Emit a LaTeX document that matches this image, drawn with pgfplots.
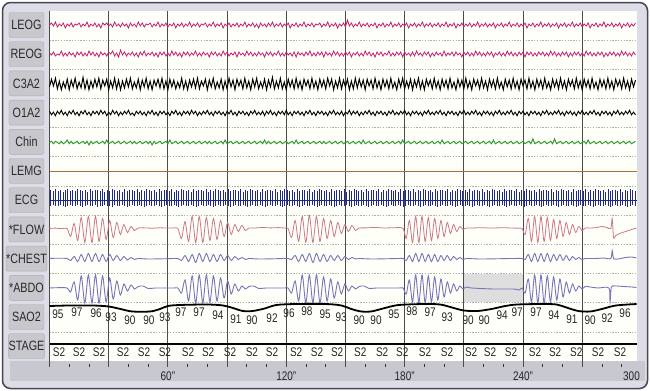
\documentclass[border=0pt]{standalone}
\usepackage{pgfplots}
\pgfplotsset{compat=1.18}
\usepackage{pgfplotstable}
\usepackage{fontspec}
\setmainfont{Liberation Sans}[FakeStretch=0.8]
\definecolor{eogc}{RGB}{196,32,112}
\definecolor{chinc}{RGB}{50,155,50}
\definecolor{lemgc}{RGB}{170,110,60}
\definecolor{ecgc}{RGB}{30,40,140}
\definecolor{flowc}{RGB}{205,120,135}
\definecolor{respc}{RGB}{118,118,185}
\definecolor{shadec}{RGB}{222,222,222}
\definecolor{plotbg}{RGB}{255,255,250}
\definecolor{framebg}{RGB}{221,221,232}
\definecolor{framecol}{RGB}{70,70,85}
\definecolor{boxfill}{RGB}{200,200,204}
\definecolor{boxline}{RGB}{170,170,178}
\definecolor{stripc}{RGB}{200,200,208}
\definecolor{labtext}{RGB}{40,40,45}
\definecolor{vgrid}{RGB}{75,75,75}
\definecolor{hgrid}{RGB}{175,175,175}

\pgfplotstableread{
t l r c o g
0 0 1 -3 2 0
1 2 -1 5 -2 1
2 -1 2 -2 1 -1
3 3 -2 6 -3 1
4 -2 0 -5 2 0
5 1 -1 3 -1 -1
6 -1 3 -6 3 1
7 2 -2 2 -2 -1
8 -3 1 -4 1 0
9 1 -2 5 -3 2
10 -1 2 -6 2 -1
11 2 -1 4 -1 1
12 -2 1 -3 3 -1
13 1 -3 6 -2 0
14 0 2 -5 1 1
15 2 -1 2 -3 -1
16 -2 2 -4 2 0
17 1 -2 7 -1 1
18 -1 1 -5 3 -1
19 3 -2 4 -2 1
20 -2 3 -6 1 -2
21 1 -1 3 -3 1
22 -1 2 -4 2 -1
23 2 -2 5 -1 0
24 -2 1 -3 2 1
25 1 -3 6 -2 -1
26 -3 2 -5 3 0
27 2 -1 4 -1 1
28 0 1 -2 2 -1
29 2 -2 5 -3 2
30 -1 2 -6 1 -1
31 1 0 3 -2 0
32 -2 3 -4 3 1
33 3 -2 6 -1 -1
34 -1 1 -5 2 0
35 1 -3 4 -3 1
36 -2 4 -6 1 -1
37 2 -1 3 -2 0
38 -1 2 -4 2 1
39 1 -2 5 -1 -1
40 -3 1 -3 3 0
41 2 -1 6 -2 1
42 -1 2 -5 0 -1
43 1 -2 2 -3 1
44 -2 1 -4 2 -1
45 3 -3 5 -1 0
46 -1 2 -6 2 1
47 2 -1 4 -2 -1
48 -2 3 -3 1 0
49 1 -2 6 -3 1
50 0 1 -5 2 -1
51 2 -1 3 -1 1
52 -2 2 -6 3 -2
53 1 -2 4 -2 1
54 -1 1 -2 1 -1
55 3 -3 5 -3 0
56 -2 2 -4 2 1
57 1 -1 6 -1 -1
58 -1 2 -5 2 0
59 2 -2 3 -2 1
60 -2 1 -6 1 -1
61 1 -2 5 -3 2
62 -1 3 -3 2 -1
63 2 -1 4 -1 0
64 -3 2 -5 3 1
65 1 -2 2 -2 -1
66 -1 1 -4 1 0
67 2 -3 6 -3 1
68 -2 2 -5 2 -1
69 1 -1 3 -1 0
70 -1 2 -6 2 1
71 3 -2 4 -2 -1
72 -2 1 -3 3 0
73 1 -1 5 -1 1
74 -1 3 -4 2 -1
75 2 -2 6 -3 0
76 -2 1 -5 1 1
77 1 -2 3 -2 -1
78 0 2 -2 2 0
79 2 -1 5 -1 1
80 -2 1 -6 3 -1
81 1 -3 4 -2 1
82 -1 2 -3 1 -1
83 3 -1 6 -3 0
84 -2 2 -5 2 1
85 1 -2 2 -1 -1
86 -1 1 -4 2 0
87 2 -2 5 -2 1
88 -3 3 -6 1 -1
89 1 -1 3 -3 2
90 -1 2 -5 2 -1
91 2 -2 6 -1 0
92 -2 1 -3 3 1
93 1 -1 4 -2 -1
94 -1 2 -6 1 0
95 2 -3 5 -3 1
96 -2 2 -2 2 -1
97 1 -1 4 -1 0
98 -1 1 -5 2 1
99 3 -2 6 -2 -1
100 -2 3 -4 1 0
101 1 -1 3 -3 1
102 -1 2 -6 2 -1
103 2 -2 5 -1 0
104 -2 1 -3 3 1
105 1 -2 6 -2 -1
106 -3 2 -5 1 0
107 2 -1 2 -2 1
108 -1 1 -4 2 -1
109 1 -3 5 -3 2
110 -2 2 -6 2 -1
111 2 -1 4 -1 1
112 -1 2 -3 3 -1
113 3 -2 7 -2 0
114 -2 1 -5 1 1
115 1 -1 3 -3 -1
116 -1 3 -4 2 0
117 2 -2 6 -1 1
118 -2 1 -5 2 -1
119 1 -2 2 -2 0
120 -1 2 -6 3 1
121 2 -1 5 -2 -1
122 -3 1 -3 1 0
123 1 -2 4 -3 1
124 -1 2 -5 2 -1
125 2 -3 6 -1 2
126 -2 2 -4 2 -1
127 1 -1 3 -2 0
128 -1 1 -6 1 1
129 3 -2 5 -3 -1
130 -2 2 -2 2 0
131 1 -1 4 -1 1
132 -1 3 -5 3 -1
133 2 -2 6 -2 0
134 -2 1 -4 1 1
135 1 -2 3 -3 -1
136 0 2 -6 2 0
137 2 -1 5 -1 1
138 -2 2 -3 2 -1
139 1 -3 4 -2 1
140 -1 2 -5 1 -1
141 3 -1 6 -3 0
142 -2 1 -2 2 1
143 1 -2 5 -1 -1
144 -1 3 -6 3 0
145 2 -1 3 -2 1
146 -3 2 -4 1 -1
147 1 -2 6 -2 0
148 -1 1 -5 2 1
149 2 -2 4 -3 -1
150 -2 2 -3 1 0
151 5 -1 5 -1 1
152 -1 2 -6 3 -1
153 2 -3 3 -2 0
154 -2 1 -5 2 1
155 1 -1 6 -1 -1
156 -1 2 -4 2 0
157 3 -2 5 -3 1
158 -2 1 -3 1 -1
159 1 -2 4 -2 2
160 -1 3 -6 2 -1
161 2 -1 5 -1 0
162 -2 2 -2 3 1
163 1 -2 4 -2 -1
164 -1 1 -5 1 0
165 2 -3 6 -3 1
166 -3 2 -4 2 -1
167 1 -1 3 -1 0
168 -1 2 -6 2 1
169 2 -2 5 -2 -1
170 -2 1 -3 1 0
171 1 -1 4 -3 1
172 -1 3 -5 2 -1
173 3 -2 6 -1 0
174 -2 1 -4 3 1
175 1 -2 2 -2 -1
176 -1 2 -6 1 0
177 2 -1 5 -2 1
178 -2 2 -3 2 -1
179 1 -3 6 -1 2
180 -1 2 -5 3 -1
181 2 -1 3 -2 0
182 -3 1 -4 1 1
183 1 -2 5 -3 -1
184 -1 2 -6 2 0
185 2 -2 4 -1 1
186 -2 3 -3 2 -1
187 1 -1 6 -2 0
188 -1 1 -5 1 1
189 3 -2 3 -3 -1
190 -2 2 -6 2 0
191 1 -1 5 -1 1
192 -1 2 -2 3 -1
193 2 -3 4 -2 0
194 -2 1 -5 1 1
195 1 -2 6 -2 -1
196 -1 2 -4 2 0
197 2 -1 3 -1 1
198 -2 1 -6 3 -1
199 1 -2 5 -2 2
200 -1 3 -3 1 -1
201 3 -2 4 -3 0
202 -2 1 -5 2 1
203 1 -1 6 -1 -1
204 -1 2 -4 2 0
205 2 -2 2 -2 1
206 -3 2 -6 1 -1
207 1 -1 5 -3 0
208 -1 1 -3 2 1
209 2 -3 4 -1 -1
210 -2 2 -5 3 0
211 1 -1 6 -2 1
212 -1 2 -4 1 -1
213 2 -2 3 -2 0
214 -2 1 -6 2 1
215 1 -2 5 -1 -1
216 -1 3 -2 3 0
217 3 -1 4 -2 1
218 -2 2 -5 1 -1
219 1 -2 6 -3 0
220 -1 1 -4 2 1
221 2 -2 3 -1 -1
222 -2 2 -6 2 0
223 1 -1 5 -2 1
224 -1 2 -3 1 -1
225 2 -3 4 -3 2
226 -3 1 -5 2 -1
227 1 -1 6 -1 0
228 -1 2 -4 3 1
229 2 -2 2 -2 -1
230 -2 1 -6 1 0
231 1 -2 5 -2 1
232 -1 3 -3 2 -1
233 3 -1 4 -1 0
234 -2 2 -5 3 1
235 1 -2 6 -2 -1
236 -1 1 -4 1 0
237 2 -2 3 -3 1
238 -2 2 -6 2 -1
239 1 -1 5 -1 0
240 -1 2 -2 2 1
241 2 -3 4 -2 -1
242 -3 2 -5 1 0
243 1 -1 6 -3 1
244 -1 2 -4 2 -1
245 2 -2 3 -1 3
246 -2 1 -6 2 -1
247 1 -2 5 -2 0
248 -1 2 -3 1 1
249 3 -1 4 -3 -1
250 -2 2 -5 2 0
251 1 -2 6 -1 1
252 -1 1 -4 3 -1
253 2 -2 2 -2 0
254 -2 3 -6 1 1
255 1 -1 5 -2 -1
256 -1 2 -3 2 3
257 2 -2 4 -1 -1
258 -3 1 -5 3 0
259 1 -2 6 -2 1
260 -1 2 -4 1 -1
261 2 -1 3 -3 0
262 -2 2 -6 2 1
263 1 -3 5 -1 -1
264 -1 1 -2 2 0
265 3 -2 4 -2 1
266 -2 2 -5 1 -1
267 1 -1 6 -3 0
268 -1 2 -4 2 1
269 2 -2 3 -1 -1
270 -2 1 -6 3 0
271 1 -2 5 -2 1
272 -1 3 -3 1 -1
273 2 -1 4 -2 2
274 -3 2 -5 2 -1
275 1 -2 6 -1 0
276 -1 1 -4 3 1
277 2 -2 2 -2 -1
278 -2 2 -6 1 0
279 1 -1 5 -3 1
280 -1 2 -3 2 -1
281 3 -3 4 -1 0
282 -2 1 -5 2 1
283 1 -2 6 -2 -1
284 -1 2 -4 1 0
285 2 -1 3 -3 1
286 -2 2 -6 2 -1
287 1 -2 5 -1 0
288 -1 1 -2 3 1
289 2 -2 4 -2 -1
290 -3 3 -5 1 0
291 1 -1 6 -2 1
292 -1 2 -4 2 -1
293 2 -2 3 -1 0
294 -2 1 -6 3 1
295 1 -2 5 -2 -1
296 -1 2 -3 1 0
297 2 -1 4 -2 1
}\noisetab

\pgfplotstableread{
t u d
0.5 11 5
1.75 10 4
3 12 5
4.25 10 5
5.5 11 4
6.75 9 5
8 11 6
9.25 12 5
10.5 10 4
11.75 11 5
13 10 5
14.25 12 4
15.5 11 5
16.75 10 6
18 11 5
19.25 9 4
20.5 12 5
21.75 10 5
23 11 4
24.25 11 6
25.5 10 5
26.75 12 5
28 9 4
29.25 11 5
30.5 10 5
31.75 12 6
33 11 4
34.25 10 5
35.5 11 5
36.75 9 4
38 12 5
39.25 10 6
40.5 11 5
41.75 11 4
43 10 5
44.25 12 5
45.5 9 4
46.75 11 5
48 10 6
49.25 12 5
50.5 11 4
51.75 10 5
53 11 5
54.25 9 4
55.5 12 5
56.75 10 6
58 11 5
59.25 11 4
60.5 10 5
61.75 12 5
63 9 4
64.25 11 5
65.5 10 6
66.75 12 5
68 11 4
69.25 10 5
70.5 11 5
71.75 9 4
73 12 5
74.25 10 6
75.5 11 5
76.75 11 4
78 10 5
79.25 12 5
80.5 9 4
81.75 11 5
83 10 6
84.25 12 5
85.5 11 4
86.75 10 5
88 11 5
89.25 9 4
90.5 12 5
91.75 10 6
93 11 5
94.25 11 4
95.5 10 5
96.75 12 5
98 9 4
99.25 11 5
100.5 10 6
101.75 12 5
103 11 4
104.25 10 5
105.5 11 5
106.75 9 4
108 12 5
109.25 10 6
110.5 11 5
111.75 11 4
113 10 5
114.25 12 5
115.5 9 4
116.75 11 5
118 10 6
119.25 12 5
120.5 11 4
121.75 10 5
123 11 5
124.25 9 4
125.5 12 5
126.75 10 6
128 11 5
129.25 11 4
130.5 10 5
131.75 12 5
133 9 4
134.25 11 5
135.5 10 6
136.75 12 5
138 11 4
139.25 10 5
140.5 11 5
141.75 9 4
143 12 5
144.25 10 6
145.5 11 5
146.75 11 4
148 10 5
149.25 12 5
150.5 9 4
151.75 11 5
153 10 6
154.25 12 5
155.5 11 4
156.75 10 5
158 11 5
159.25 9 4
160.5 12 5
161.75 10 6
163 11 5
164.25 11 4
165.5 10 5
166.75 12 5
168 9 4
169.25 11 5
170.5 10 6
171.75 12 5
173 11 4
174.25 10 5
175.5 11 5
176.75 9 4
178 12 5
179.25 10 6
180.5 11 5
181.75 11 4
183 10 5
184.25 12 5
185.5 9 4
186.75 11 5
188 10 6
189.25 12 5
190.5 11 4
191.75 10 5
193 11 5
194.25 9 4
195.5 12 5
196.75 10 6
198 11 5
199.25 11 4
200.5 10 5
201.75 12 5
203 9 4
204.25 11 5
205.5 10 6
206.75 12 5
208 11 4
209.25 10 5
210.5 11 5
211.75 9 4
213 12 5
214.25 10 6
215.5 11 5
216.75 11 4
218 10 5
219.25 12 5
220.5 9 4
221.75 11 5
223 10 6
224.25 12 5
225.5 11 4
226.75 10 5
228 11 5
229.25 9 4
230.5 12 5
231.75 10 6
233 11 5
234.25 11 4
235.5 10 5
236.75 12 5
238 9 4
239.25 11 5
240.5 10 6
241.75 12 5
243 11 4
244.25 10 5
245.5 11 5
246.75 9 4
248 12 5
249.25 10 6
250.5 11 5
251.75 11 4
253 10 5
254.25 12 5
255.5 9 4
256.75 11 5
258 10 6
259.25 12 5
260.5 11 4
261.75 10 5
263 11 5
264.25 9 4
265.5 12 5
266.75 10 6
268 11 5
269.25 11 4
270.5 10 5
271.75 12 5
273 9 4
274.25 11 5
275.5 10 6
276.75 12 5
278 11 4
279.25 10 5
280.5 11 5
281.75 9 4
283 12 5
284.25 10 6
285.5 11 5
286.75 11 4
288 10 5
289.25 12 5
290.5 9 4
291.75 11 5
293 10 6
294.25 12 5
295.5 11 4
296.75 10 5
}\ecgtab

\pgfplotstableread{
t v
0 0
3 0.4
6 -0.2
8.9 0
10.7 -8
12.5 5
14.3 -12
16.1 11
17.9 -14
19.7 12
21.5 -14
23.3 12
25.1 -13
26.9 10
28.7 -11
30.5 8
32.3 -9
34.1 6
35.9 -6
37.7 4
39.5 -4
41.3 2
43.1 -2
44.9 0.5
48 0.6
52 0.3
56 0.7
60 0.4
63 0.6
65.1 0
66.9 -10
68.7 7
70.5 -13
72.3 12
74.1 -14
75.9 12
77.7 -14
79.5 11
81.3 -12
83.1 10
84.9 -11
86.7 8
88.5 -8
90.3 6
92.1 -6
93.9 4
95.7 -3
97.5 3
99.3 -2
101.1 0.5
104 0.5
108 1
112 0.6
116 0.9
119 0.5
120.9 0
122.7 -9
124.5 8
126.3 -13
128.1 12
129.9 -14
131.7 13
133.5 -14
135.3 12
137.1 -13
138.9 10
140.7 -10
142.5 8
144.3 -8
146.1 6
147.9 -5
149.7 4
151.5 -3
153.3 3
155.1 -2
156.9 0.5
160 0.6
165 1
170 0.5
175 0.8
179.2 0
180.8 -10
182.4 8
184 -14
185.6 12
187.2 -14
188.8 12
190.4 -13
192 11
193.6 -12
195.2 10
196.8 -10
198.4 8
200 -8
201.6 6
203.2 -5
204.8 4
206.4 -3
208 2
209.6 -1
211.2 0.5
214 0.5
219 0.8
224 0.4
229 0.8
234 0.5
237.5 0.3
239.5 0
241.1 -6
242.7 10
244.3 -13
245.9 12
247.5 -14
249.1 12
250.7 -13
252.3 11
253.9 -12
255.5 9
257.1 -10
258.7 8
260.3 -8
261.9 6
263.5 -6
265.1 4
266.7 -4
268.3 2
269.9 -2
271.5 0.5
274 0.5
277 0.8
280 2
282.5 1
284.5 0
285.2 10
285.9 -9
287 -7
289 -5
292 -3
295 -1
297.5 0.5
}\flowtab

\pgfplotstableread{
t v
0 0
4 0.3
8.9 0
10.7 -2
12.5 2
14.3 -3
16.1 4
17.9 -3
19.7 5
21.5 -3
23.3 5
25.1 -3
26.9 4
28.7 -3
30.5 4
32.3 -2
34.1 3
35.9 -2
37.7 2
39.5 -1.5
41.3 1
43.1 -1
44.9 0
50 -0.5
57 -0.3
63 0
65.1 0
66.9 -2
68.7 3
70.5 -3
72.3 4
74.1 -4
75.9 5
77.7 -3
79.5 5
81.3 -3
83.1 4
84.9 -3
86.7 4
88.5 -2
90.3 3
92.1 -2
93.9 2
95.7 -1
97.5 1
99.3 -1
101.1 0
106 -0.5
113 -0.3
119 0
120.9 0
122.7 -1
124.5 3
126.3 -3
128.1 4
129.9 -3
131.7 5
133.5 -4
135.3 5
137.1 -3
138.9 4
140.7 -3
142.5 3
144.3 -2
146.1 3
147.9 -2
149.7 2
151.5 -1
153.3 1
155.1 -0.5
156.9 0
163 -0.5
170 -0.3
177 0
179.2 0
180.8 -2
182.4 3
184 -3
185.6 5
187.2 -3
188.8 5
190.4 -3
192 4
193.6 -3
195.2 4
196.8 -3
198.4 3
200 -2
201.6 3
203.2 -2
204.8 2
206.4 -1
208 1
209.6 -1
211.2 0
218 -0.5
226 -0.3
234 0
239.5 0
241.1 -1
242.7 4
244.3 -3
245.9 5
247.5 -3
249.1 5
250.7 -3
252.3 5
253.9 -3
255.5 4
257.1 -2
258.7 4
260.3 -2
261.9 3
263.5 -2
265.1 2
266.7 -1
268.3 1
269.9 -1
271.5 0
277 0
281 0.5
284.5 0
285.2 8
285.9 0
288 -0.5
292 1
295 1.5
297.5 0.5
}\chesttab

\pgfplotstableread{
t v
0 0
4 0.3
8.9 0
10.7 -4
12.5 6
14.3 -12
16.1 12
17.9 -15
19.7 13
21.5 -15
23.3 13
25.1 -15
26.9 12
28.7 -14
30.5 10
32.3 -11
34.1 7
35.9 -7
37.7 4
39.5 -3
41.3 3
43.1 -1
44.9 1.5
47.5 2
50 -0.5
54 0
63 0
65.1 0
66.9 -5
68.7 8
70.5 -13
72.3 12
74.1 -15
75.9 13
77.7 -15
79.5 13
81.3 -14
83.1 12
84.9 -13
86.7 10
88.5 -10
90.3 7
92.1 -6
93.9 4
95.7 -3
97.5 2
99.3 -1
101.1 1.5
103.5 2
106 -0.5
110 0
119 0
120.9 0
122.7 -5
124.5 7
126.3 -13
128.1 13
129.9 -15
131.7 13
133.5 -15
135.3 13
137.1 -15
138.9 11
140.7 -13
142.5 9
144.3 -10
146.1 6
147.9 -6
149.7 4
151.5 -3
153.3 2
155.1 -1
156.9 1.5
159.5 2
162 -0.5
166 0
177 0
179.2 0
180.8 -6
182.4 8
184 -14
185.6 13
187.2 -15
188.8 13
190.4 -15
192 12
193.6 -14
195.2 11
196.8 -12
198.4 9
200 -9
201.6 6
203.2 -5
204.8 4
206.4 -3
208 2
209.6 -1
211.2 1
214 0
225 -1
235 -1
238 -2
239.5 0
241.1 -5
242.7 9
244.3 -14
245.9 13
247.5 -15
249.1 13
250.7 -15
252.3 12
253.9 -14
255.5 11
257.1 -12
258.7 9
260.3 -9
261.9 6
263.5 -5
265.1 4
266.7 -3
268.3 2
269.9 -1
271.5 1.5
274 1
278 0
283.5 0
284.1 -14
284.8 1
287 2
291 1.5
295 1
297.5 0.5
}\abdotab

\pgfplotstableread{
t v
0 11
10 11.5
22 11.5
30 10.5
36 8
42 5.5
51 5.5
56 8
60 11
66 12
80 12.5
88 11.5
93 9
98 6
103 6
109 8.5
115 12
125 13
140 13
148 11.5
153 8
158 5.5
163 5.5
170 9
177 12
190 13
198 12.5
204 9.5
210 6.5
217 6
224 8
231 11
237 12.5
250 13
257 12.5
262 9.5
268 6
274 5.5
280 8
287 11.5
297.6 13
}\saotab

\tikzset{
  chlab/.style={draw=boxline, fill=boxfill, rounded corners=2pt, minimum width=35pt,
    minimum height=25pt, inner sep=0pt, text=labtext, font=\fontsize{13.5}{14}\selectfont},
  num/.style={inner sep=0pt, text=black!85, font=\fontsize{12.5}{13}\selectfont},
  gridh/.style={draw=hgrid, line width=0.6pt, dash pattern=on 1.5pt off 1.3pt},
  gridv/.style={draw=vgrid, line width=0.9pt},
}

\begin{document}
\begin{tikzpicture}
\begin{axis}[
  x=1.973pt, y=1pt, y dir=reverse,
  xmin=0, xmax=297.6, ymin=10.8, ymax=361,
  hide axis, clip=false,
]
% page background and frame
\fill[white] (axis cs:-25.09,0) rectangle (axis cs:304.36,391);
\draw[draw=framecol, fill=framebg, line width=1.5pt, rounded corners=8pt]
  (axis cs:-23.82,2.5) rectangle (axis cs:303.09,388.5);
\fill[plotbg] (axis cs:0,10.8) rectangle (axis cs:297.6,361);
\fill[stripc] (axis cs:-20.02,361) rectangle (axis cs:302.0,381);
% channel labels
\node[chlab] at (axis cs:-11.66,25) {LEOG};
\node[chlab] at (axis cs:-11.66,54.2) {REOG};
\node[chlab] at (axis cs:-11.66,83.4) {C3A2};
\node[chlab] at (axis cs:-11.66,112.6) {O1A2};
\node[chlab] at (axis cs:-11.66,141.8) {Chin};
\node[chlab] at (axis cs:-11.66,171) {LEMG};
\node[chlab] at (axis cs:-11.66,200.2) {ECG};
\node[chlab] at (axis cs:-11.66,229.4) {*FLOW};
\node[chlab] at (axis cs:-11.66,258.6) {*CHEST};
\node[chlab] at (axis cs:-11.66,287.8) {*ABDO};
\node[chlab] at (axis cs:-11.66,317) {SAO2};
\node[chlab] at (axis cs:-11.66,346.2) {STAGE};
% grid
\pgfplotsinvokeforeach{39.8,69,98.2,127.4,156.6,185.8,215,244.2,273.4,302.6,331.8}{
  \draw[gridh] (axis cs:0,#1) -- (axis cs:297.6,#1);
}
\addplot[fill=shadec, draw=none] coordinates {(210,273.8) (240,273.8) (240,302.4) (210,302.4)};
\pgfplotsinvokeforeach{0,30,60,90,120,150,180,210,240,270}{
  \draw[gridv] (axis cs:#1,10.8) -- (axis cs:#1,366.5);
}
\pgfplotsinvokeforeach{10,20,40,50,70,80,100,110,130,140,160,170,190,200,220,230,250,260,280,290}{
  \draw[black!80, line width=0.8pt] (axis cs:#1,364) -- (axis cs:#1,367);
}
\node[num] at (axis cs:60,376.5) {60"};
\node[num] at (axis cs:120,376.5) {120"};
\node[num] at (axis cs:180,376.5) {180"};
\node[num] at (axis cs:240,376.5) {240"};
\node[num, anchor=east] at (axis cs:299.3,376.5) {300};
% EEG / EOG / EMG traces
\addplot[eogc, line width=0.8pt] table[x=t, y expr=25-\thisrow{l}] {\noisetab};
\addplot[eogc, line width=0.8pt] table[x=t, y expr=54-\thisrow{r}] {\noisetab};
\addplot[black, line width=1.0pt] table[x=t, y expr=84-0.95*\thisrow{c}] {\noisetab};
\addplot[black, line width=0.9pt] table[x=t, y expr=113-0.9*\thisrow{o}] {\noisetab};
\addplot[chinc, line width=1.0pt] table[x=t, y expr=142.5-1.2*\thisrow{g}] {\noisetab};
\addplot[lemgc, line width=0.7pt] coordinates {(0,171.5) (297.6,171.5)};
% ECG
\addplot[ecgc, line width=1.3pt] coordinates {(0,200.5) (297.6,200.5)};
\addplot[draw=none, mark=none, error bars/.cd, y dir=both, y explicit, error mark=none,
  error bar style={draw=ecgc, line width=0.6pt}]
  table[x=t, y expr=200.5, y error plus=d, y error minus=u] {\ecgtab};
% respiration
\addplot[flowc, line width=0.8pt, smooth] table[x=t, y expr=228.5-\thisrow{v}] {\flowtab};
\addplot[respc, line width=0.9pt, smooth] table[x=t, y expr=258.5-\thisrow{v}] {\chesttab};
\addplot[respc, line width=0.9pt, smooth] table[x=t, y expr=288-\thisrow{v}] {\abdotab};
% SaO2
\addplot[black, line width=1.8pt, smooth] table[x=t, y expr=317-\thisrow{v}] {\saotab};
\node[num] at (axis cs:4.3,314.5) {95};
\node[num] at (axis cs:13.9,312.3) {97};
\node[num] at (axis cs:23.6,313.4) {96};
\node[num] at (axis cs:31.2,316.7) {93};
\node[num] at (axis cs:40.8,320) {90};
\node[num] at (axis cs:50.4,320) {90};
\node[num] at (axis cs:58.5,316.7) {93};
\node[num] at (axis cs:66.6,312.3) {97};
\node[num] at (axis cs:75.8,312.3) {97};
\node[num] at (axis cs:85.4,315.6) {94};
\node[num] at (axis cs:94.5,318.9) {91};
\node[num] at (axis cs:102.6,320) {90};
\node[num] at (axis cs:112.8,317.8) {92};
\node[num] at (axis cs:121.4,313.4) {96};
\node[num] at (axis cs:130.5,311.2) {98};
\node[num] at (axis cs:139.7,314.5) {95};
\node[num] at (axis cs:147.8,316.7) {93};
\node[num] at (axis cs:156.9,320) {90};
\node[num] at (axis cs:165.5,320) {90};
\node[num] at (axis cs:174.6,314.5) {95};
\node[num] at (axis cs:183.7,311.2) {98};
\node[num] at (axis cs:192.9,312.3) {97};
\node[num] at (axis cs:201.5,316.7) {93};
\node[num] at (axis cs:212.2,320) {90};
\node[num] at (axis cs:220.3,320) {90};
\node[num] at (axis cs:229.4,315.6) {94};
\node[num] at (axis cs:237,312.3) {97};
\node[num] at (axis cs:246.6,312.3) {97};
\node[num] at (axis cs:255.7,315.6) {94};
\node[num] at (axis cs:264.8,318.9) {91};
\node[num] at (axis cs:274,320) {90};
\node[num] at (axis cs:282.6,317.8) {92};
\node[num] at (axis cs:291.7,313.4) {96};
% stage
\addplot[black, line width=2pt] coordinates {(0,344.3) (297.6,344.3)};
\pgfplotsinvokeforeach{4.8,14.95,25.1,37.3,47.9,58.5,70.2,80.4,91.5,102.6,112.8,125,135.6,145.8,157.5,168.6,178.8,190.3,201.5,213.7,223.3,233.9,246.1,256.3,267,278,289.2}{
  \node[num] at (axis cs:#1,352.2) {S2};
}
\end{axis}
\end{tikzpicture}
\end{document}
